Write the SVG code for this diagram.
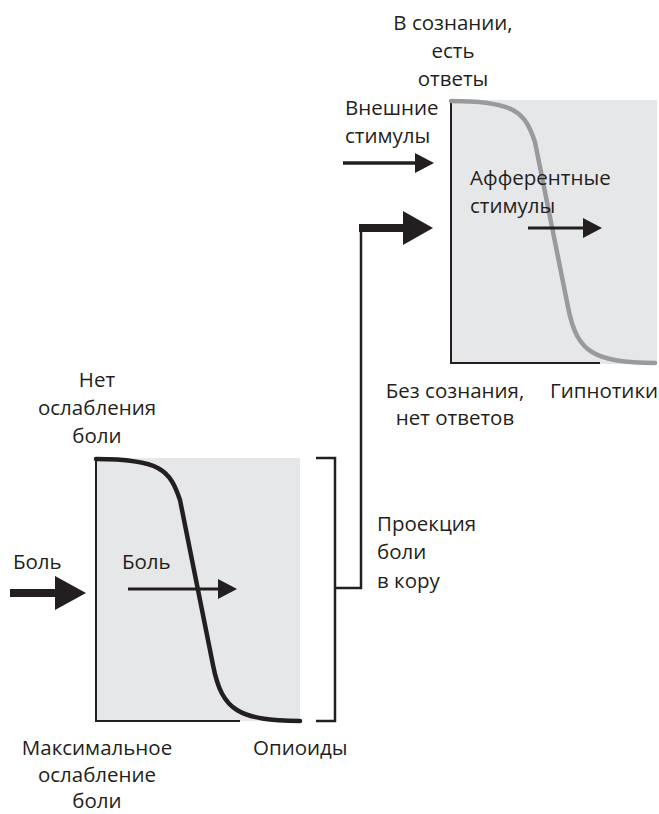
<svg xmlns="http://www.w3.org/2000/svg" width="659" height="814" viewBox="0 0 659 814">
<style>
text{font-family:"Open Sans","Noto Sans",sans-serif;font-size:20.5px;fill:#231f20}
.c{text-anchor:middle}
.bg{fill:#e6e7e8}
.ax{fill:none;stroke:#231f20;stroke-width:2}
.ln{fill:none;stroke:#231f20;stroke-width:2.5}
.ah{fill:#231f20}
</style>
<defs>
<path id="curve" d="M0,0 C64,0 74,11 84,41 L117,206 C126,253 144,261 204,262"/>
</defs>
<g id="box-low">
<rect class="bg" x="96" y="458" width="204" height="263"/>
<path class="ax" d="M96,458 V721 H240"/>
<use href="#curve" x="96" y="459" fill="none" stroke="#231f20" stroke-width="4.5" stroke-linecap="round"/>
<text class="c" x="97" y="387">Нет</text>
<text class="c" x="97" y="415">ослабления</text>
<text class="c" x="97" y="443">боли</text>
<text class="c" x="97" y="755">Максимальное</text>
<text class="c" x="97" y="782">ослабление</text>
<text class="c" x="97" y="808">боли</text>
<text x="253" y="755">Опиоиды</text>
<text x="122" y="569">Боль</text>
</g>
<g id="box-high">
<rect class="bg" x="451" y="100" width="206" height="264"/>
<path class="ax" d="M451,100 V363 H600"/>
<use href="#curve" x="451" y="101" fill="none" stroke="#999a9c" stroke-width="4.5" stroke-linecap="round"/>
<text class="c" x="453" y="30">В сознании,</text>
<text class="c" x="453" y="58">есть</text>
<text class="c" x="453" y="86">ответы</text>
<text class="c" x="455" y="398">Без сознания,</text>
<text class="c" x="455" y="425">нет ответов</text>
<text x="550" y="398">Гипнотики</text>
<text x="470" y="185">Афферентные</text>
<text x="470" y="213">стимулы</text>
</g>
<g id="labels">
<text x="13" y="569">Боль</text>
<text x="345" y="115">Внешние</text>
<text x="345" y="143">стимулы</text>
<text x="377" y="531">Проекция</text>
<text x="377" y="559">боли</text>
<text x="377" y="588">в кору</text>
</g>
<g id="connectors">
<path class="ln" d="M316,458 H335 V721 H316"/>
<path class="ln" d="M335,588 H361 V228"/>
<path d="M359,228 H405" stroke="#231f20" stroke-width="8" fill="none"/>
<polygon class="ah" points="403,211 433,228 403,245"/>
<path d="M10,593 H57" stroke="#231f20" stroke-width="8" fill="none"/>
<polygon class="ah" points="55,576 86,593 55,610"/>
<path d="M128,589 H220" stroke="#231f20" stroke-width="3" fill="none"/>
<polygon class="ah" points="218,579 237,589 218,599"/>
<path d="M343,163 H417" stroke="#231f20" stroke-width="3.5" fill="none"/>
<polygon class="ah" points="415,153 434,163 415,173"/>
<path d="M528,228 H585" stroke="#231f20" stroke-width="3" fill="none"/>
<polygon class="ah" points="583,218 602,228 583,238"/>
</g>
</svg>
